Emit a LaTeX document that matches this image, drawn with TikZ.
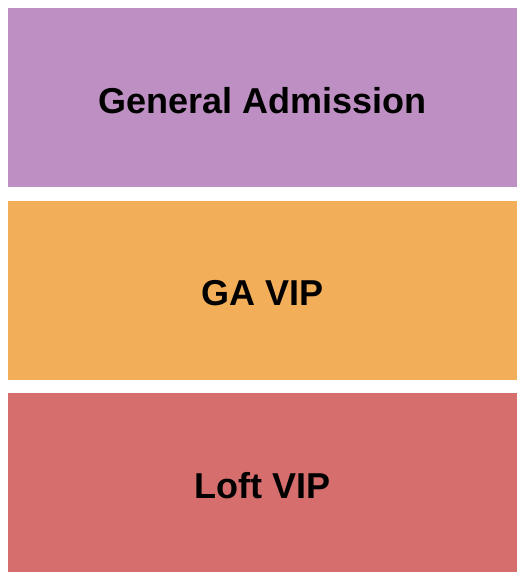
\documentclass[tikz,border=0pt]{standalone}
\usepackage{fontspec}
\setmainfont{Liberation Sans}
\usetikzlibrary{positioning}
\definecolor{gapurple}{RGB}{189,143,194}
\definecolor{viporange}{RGB}{243,174,89}
\definecolor{loftred}{RGB}{214,110,109}
\tikzset{
  zone/.style={draw=none, minimum width=509bp, minimum height=179bp, inner sep=0pt, outer sep=0pt},
  zonelabel/.style={font=\fontsize{36bp}{36bp}\selectfont\bfseries, text=black, inner sep=0pt}
}
\begin{document}
\begin{tikzpicture}[x=1bp,y=-1bp]
	% Page frame
	\useasboundingbox (0,0) rectangle (525,580);
	% Draw the three floor sections
	\node (ga) [zone, fill=gapurple] at (262.5,97.5) {};
	\node (vip) [zone, fill=viporange, below=14bp of ga] {};
	\node (loft) [zone, fill=loftred, below=13bp of vip] {};
	% Section names
	\node (galabel) [zonelabel] at ([yshift=-3bp]ga.center) {General Admission};
	\node (viplabel) [zonelabel] at ([yshift=-3bp]vip.center) {GA VIP};
	\node (loftlabel) [zonelabel] at ([yshift=-3bp]loft.center) {Loft VIP};
\end{tikzpicture}
\end{document}
